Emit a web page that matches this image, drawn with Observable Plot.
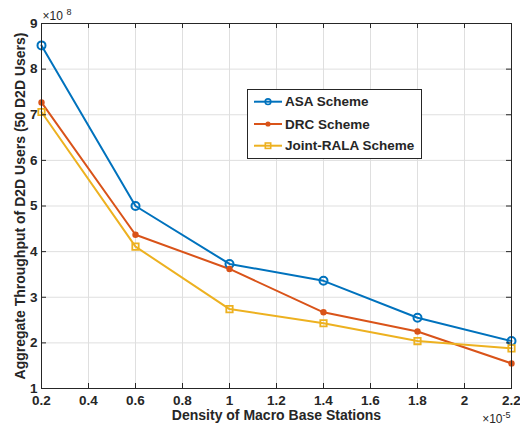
<!DOCTYPE html>
<html><head><meta charset="utf-8">
<script src="https://cdn.jsdelivr.net/npm/d3@7"></script>
<script src="https://cdn.jsdelivr.net/npm/@observablehq/plot@0.6"></script>
<style>body{margin:0;background:#fff} #chart{position:relative;width:520px;height:427px}</style>
</head><body><div id="chart"></div>
<script>
const density = [0.2, 0.6, 1.0, 1.4, 1.8, 2.2];
const asa   = [8.52, 5.00, 3.73, 3.36, 2.55, 2.04];
const drc   = [7.27, 4.37, 3.62, 2.67, 2.25, 1.55];
const joint = [7.06, 4.11, 2.74, 2.43, 2.04, 1.88];
const seriesNames = ["ASA Scheme", "DRC Scheme", "Joint-RALA Scheme"];
const seriesColors = ["#0072BD", "#D95319", "#EDB120"];
const xTicks = [0.2, 0.4, 0.6, 0.8, 1, 1.2, 1.4, 1.6, 1.8, 2, 2.2];
const yTicks = [1, 2, 3, 4, 5, 6, 7, 8, 9];
const xLabel = "Density of Macro Base Stations";
const yLabel = "Aggregate Throughput of D2D Users (50 D2D Users)";

const values = [asa, drc, joint];
const table = [];
seriesNames.forEach((s, i) => density.forEach((x, j) => table.push({series: s, x, y: values[i][j]})));
const bySeries = s => table.filter(d => d.series === s);

const font = "'Liberation Sans', Arial, sans-serif";
const ink = "#262626";

const plot = Plot.plot({
  width: 520, height: 427,
  marginLeft: 41, marginRight: 9, marginTop: 23, marginBottom: 39,
  style: {fontFamily: font, fontSize: "13px", color: ink, background: "#fff"},
  x: {domain: [0.2, 2.2], axis: null},
  y: {domain: [1, 9], axis: null},
  color: {domain: seriesNames, range: seriesColors},
  marks: [
    Plot.gridX(xTicks, {stroke: "#dfdfdf", strokeOpacity: 1}),
    Plot.gridY(yTicks, {stroke: "#dfdfdf", strokeOpacity: 1}),
    Plot.line(table, {x: "x", y: "y", z: "series", stroke: "series", strokeWidth: 2}),
    Plot.dot(bySeries(seriesNames[0]), {x: "x", y: "y", r: 4, stroke: "series", strokeWidth: 2, fill: "none"}),
    Plot.dot(bySeries(seriesNames[1]), {x: "x", y: "y", r: 3.2, fill: "series", stroke: "none"}),
    Plot.dot(bySeries(seriesNames[2]), {x: "x", y: "y", r: 3.6, symbol: "square", stroke: "series", strokeWidth: 1.8, fill: "none"}),
    Plot.frame({stroke: ink, strokeWidth: 1}),
    Plot.ruleX(xTicks, {x: d => d, stroke: ink, insetTop: 360}),
    Plot.ruleX(xTicks, {x: d => d, stroke: ink, insetBottom: 360}),
    Plot.ruleY(yTicks, {y: d => d, stroke: ink, insetRight: 465}),
    Plot.ruleY(yTicks, {y: d => d, stroke: ink, insetLeft: 465}),
    Plot.axisX(xTicks, {tickSize: 0, tickPadding: 7, fontSize: 13.5, fontWeight: "bold", fill: ink, label: null, tickFormat: d => String(d)}),
    Plot.axisY(yTicks, {tickSize: 0, tickPadding: 4, fontSize: 13.5, fontWeight: "bold", fill: ink, label: null, tickFormat: d => String(d)}),
    Plot.text([xLabel], {text: d => d, frameAnchor: "bottom", dy: 27, lineAnchor: "middle", textAnchor: "middle", fontSize: 14, fontWeight: "bold", fill: ink}),
    Plot.text([yLabel], {text: d => d, frameAnchor: "left", dx: -21, rotate: -90, lineAnchor: "middle", textAnchor: "middle", fontSize: 14, fontWeight: "bold", fill: ink}),
    Plot.text(["×10"], {text: d => d, frameAnchor: "top-left", dx: 1, dy: -4, lineAnchor: "bottom", textAnchor: "start", fontSize: 12, fill: ink}),
    Plot.text(["8"], {text: d => d, frameAnchor: "top-left", dx: 25, dy: -9, lineAnchor: "bottom", textAnchor: "start", fontSize: 9, fill: ink}),
    Plot.text(["×10"], {text: d => d, frameAnchor: "bottom-right", dx: -9, dy: 34, lineAnchor: "bottom", textAnchor: "end", fontSize: 12, fill: ink}),
    Plot.text(["-5"], {text: d => d, frameAnchor: "bottom-right", dx: -9, dy: 29, lineAnchor: "bottom", textAnchor: "start", fontSize: 9, fill: ink})
  ]
});
document.getElementById("chart").appendChild(plot);

// legend
const svg = d3.select(plot);
const lg = svg.append("g").attr("font-family", font).attr("font-size", 13.5).attr("font-weight", "bold").attr("text-anchor", "start");
lg.append("rect").attr("x", 247.5).attr("y", 89.5).attr("width", 174).attr("height", 69)
  .attr("fill", "#fff").attr("stroke", ink).attr("stroke-width", 1);
const rowsY = [101.7, 124, 145.7];
seriesNames.forEach((name, i) => {
  const y = rowsY[i], c = seriesColors[i];
  lg.append("line").attr("x1", 254).attr("x2", 282).attr("y1", y).attr("y2", y).attr("stroke", c).attr("stroke-width", 2);
  if (i === 0) lg.append("circle").attr("cx", 268).attr("cy", y).attr("r", 2.8).attr("fill", "none").attr("stroke", c).attr("stroke-width", 1.6);
  if (i === 1) lg.append("circle").attr("cx", 268).attr("cy", y).attr("r", 2.6).attr("fill", c);
  if (i === 2) lg.append("rect").attr("x", 265.3).attr("y", y - 2.7).attr("width", 5.4).attr("height", 5.4).attr("fill", "none").attr("stroke", c).attr("stroke-width", 1.6);
  lg.append("text").attr("x", 285).attr("y", y).attr("dy", "0.35em").attr("text-anchor", "start").attr("fill", ink).text(name);
});
</script>
</body></html>
